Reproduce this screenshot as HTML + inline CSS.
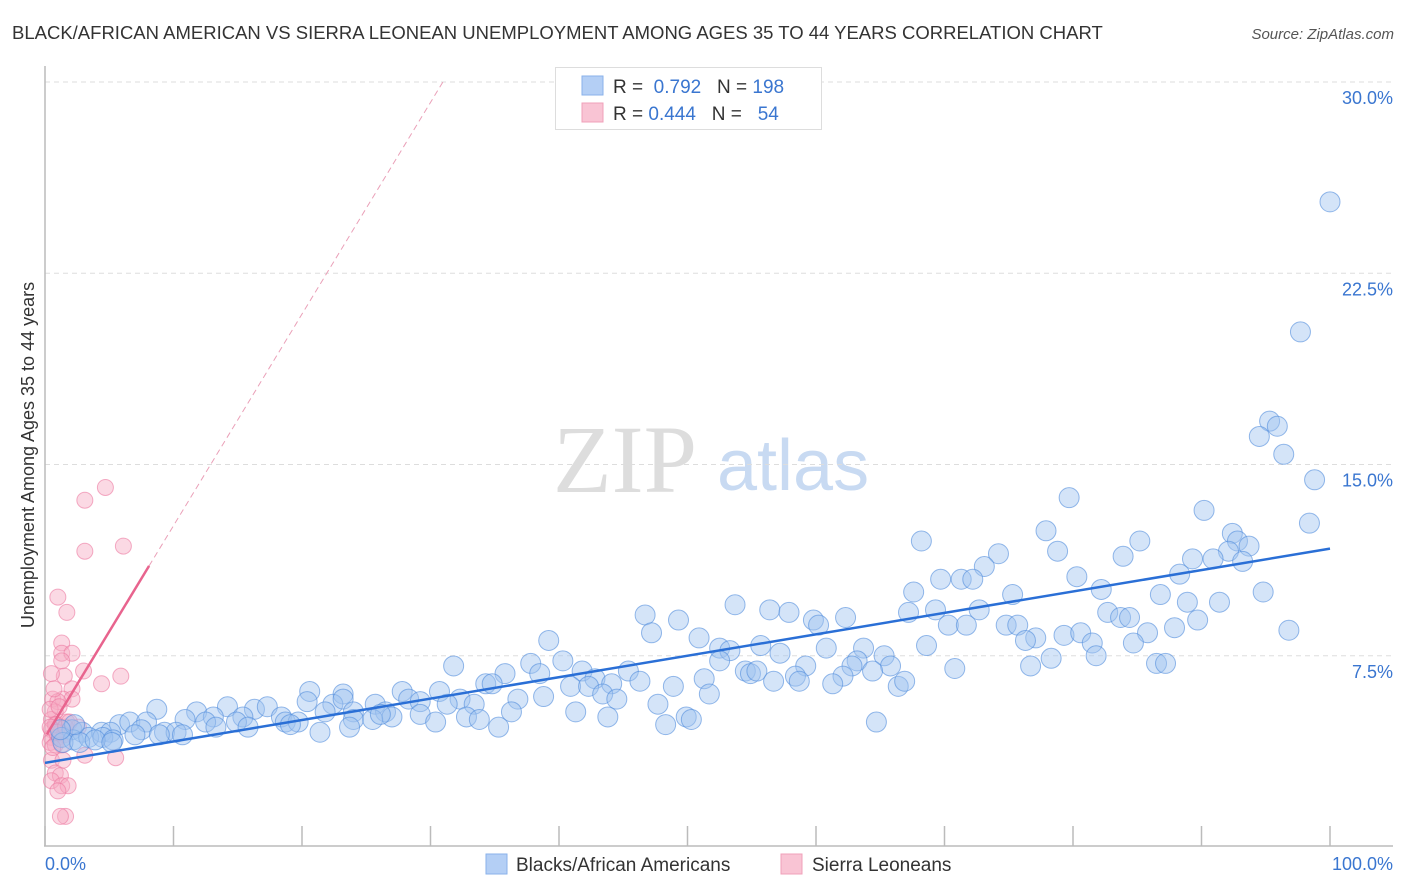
<!DOCTYPE html>
<html><head><meta charset="utf-8"><style>
body{margin:0;background:#fff;font-family:"Liberation Sans",sans-serif;}
svg{display:block}
</style></head><body>
<svg id="chart" width="1406" height="892">
<text x="12" y="39" font-size="18.5" fill="#333">BLACK/AFRICAN AMERICAN VS SIERRA LEONEAN UNEMPLOYMENT AMONG AGES 35 TO 44 YEARS CORRELATION CHART</text>
<text x="1394" y="39" font-size="15" fill="#555" font-style="italic" text-anchor="end">Source: ZipAtlas.com</text>
<g>
<text x="553" y="492" font-family="Liberation Serif,serif" font-size="96" fill="#ddd">ZIP</text>
<text x="717" y="490" font-size="72" fill="#c8daf2">atlas</text>
</g>
<g id="grid"></g>
<g id="axes"></g>
<g id="pinkpts"></g>
<g id="bluepts"></g>
<g id="lines"></g>
<text transform="translate(34,455) rotate(-90)" font-size="18" fill="#333" text-anchor="middle">Unemployment Among Ages 35 to 44 years</text>
<g>
<rect x="555.5" y="67.5" width="266" height="62" fill="#fff" stroke="#ddd"/>
<rect x="582" y="76" width="21" height="19" fill="#b4cff5" stroke="#8ab2ea"/>
<rect x="582" y="103" width="21" height="19" fill="#f9c4d4" stroke="#f0a0ba"/>
<text x="613" y="93" font-size="19" fill="#333">R = <tspan fill="#3a76d0">&#160;0.792</tspan>&#160;&#160;&#160;N = <tspan fill="#3a76d0">198</tspan></text>
<text x="613" y="120" font-size="19" fill="#333">R = <tspan fill="#3a76d0">0.444</tspan>&#160;&#160;&#160;N = <tspan fill="#3a76d0">&#160;&#160;54</tspan></text>
</g>
<g>
<rect x="486" y="854" width="21" height="20" fill="#b4cff5" stroke="#8ab2ea"/>
<text x="516" y="871" font-size="19" fill="#333">Blacks/African Americans</text>
<rect x="781" y="854" width="21" height="20" fill="#f9c4d4" stroke="#f0a0ba"/>
<text x="812" y="871" font-size="19" fill="#333">Sierra Leoneans</text>
</g>
</svg>
<script>
const yTicks=[7.5,15,22.5,30];
const yTickLabels=["7.5%","15.0%","22.5%","30.0%"];
const xTicks=[0,10,20,30,40,50,60,70,80,90,100];
const blueX=[100,97.7,95.3,95.9,94.5,96.4,98.8,98.4,79.7,90.2,68.2,77.9,78.8,85.2,92.4,92.8,93.7,92.1,74.2,83.9,89.3,90.9,93.2,73.1,80.3,88.3,69.7,71.3,72.2,67.6,75.3,82.2,94.8,86.8,53.7,56.4,57.9,67.2,69.3,72.7,82.7,88.9,91.4,46.7,49.3,59.8,62.3,83.7,84.4,89.7,47.2,60.2,70.3,71.7,74.8,75.7,85.8,87.9,96.8,39.2,50.9,77.1,79.3,80.6,76.3,81.5,52.5,53.3,55.7,57.2,60.8,63.7,68.6,84.7,52.5,63.2,65.3,78.3,81.8,86.5,87.2,31.8,37.8,40.3,41.8,45.4,59.2,62.8,65.8,76.7,70.8,35.8,38.5,42.8,54.5,54.9,55.4,51.3,64.4,58.4,62.1,34.3,34.8,40.9,42.3,44.1,46.3,48.9,56.7,58.7,61.3,66.4,66.9,20.6,23.2,27.8,30.7,32.3,38.8,43.4,44.5,51.7,36.8,8.7,14.2,16.3,17.3,20.4,22.4,23.2,25.7,28.3,29.2,31.3,33.4,47.7,11.8,13.1,15.4,18.4,21.8,24.0,26.5,27.0,29.2,36.3,41.3,49.9,10.9,12.5,14.9,18.7,19.7,24.0,25.5,26.1,30.4,32.8,33.8,43.8,50.3,48.3,5.8,6.6,7.9,13.3,15.8,19.1,23.7,35.3,64.7,2.1,2.9,4.4,5.1,7.5,9.3,10.2,10.7,21.4,1.3,2.2,3.4,4.5,5.3,7.0,8.9,1.4,2.7,3.9,5.2,2.3,1.2];
const blueY=[25.3,20.2,16.7,16.5,16.1,15.4,14.4,12.7,13.7,13.2,12.0,12.4,11.6,12.0,12.3,12.0,11.8,11.6,11.5,11.4,11.3,11.3,11.2,11.0,10.6,10.7,10.5,10.5,10.5,10.0,9.9,10.1,10.0,9.9,9.5,9.3,9.2,9.2,9.3,9.3,9.2,9.6,9.6,9.1,8.9,8.9,9.0,9.0,9.0,8.9,8.4,8.7,8.7,8.7,8.7,8.7,8.4,8.6,8.5,8.1,8.2,8.2,8.3,8.4,8.1,8.0,7.8,7.7,7.9,7.6,7.8,7.8,7.9,8.0,7.3,7.3,7.5,7.4,7.5,7.2,7.2,7.1,7.2,7.3,6.9,6.9,7.1,7.1,7.1,7.1,7.0,6.8,6.8,6.6,6.9,6.8,6.9,6.6,6.9,6.7,6.7,6.4,6.4,6.3,6.3,6.4,6.5,6.3,6.5,6.5,6.4,6.3,6.5,6.1,6.0,6.1,6.1,5.8,5.9,6.0,5.8,6.0,5.8,5.4,5.5,5.4,5.5,5.7,5.6,5.8,5.6,5.8,5.7,5.6,5.6,5.6,5.3,5.1,5.1,5.1,5.3,5.3,5.3,5.1,5.2,5.3,5.3,5.1,5.0,4.9,4.9,4.9,4.9,5.0,5.0,5.2,4.9,5.1,5.0,5.1,5.0,4.8,4.8,4.9,4.9,4.7,4.7,4.8,4.7,4.7,4.9,4.6,4.5,4.5,4.5,4.6,4.5,4.5,4.4,4.5,4.3,4.2,4.3,4.3,4.2,4.4,4.4,4.1,4.1,4.2,4.1,4.8,4.6];
const pinkX=[4.7,3.1,6.1,3.1,1.0,1.7,1.3,1.3,2.1,1.3,3.0,1.5,5.9,0.5,4.4,2.1,0.6,1.4,2.1,1.0,0.8,0.5,0.9,1.7,0.5,1.2,0.5,1.0,1.5,0.4,0.8,1.3,2.6,3.1,5.5,0.5,1.4,0.8,1.2,0.5,1.3,1.8,1.0,1.6,1.2,0.8,0.4,0.9,1.6,0.6,0.4,1.1,0.7,1.9];
const pinkY=[14.1,13.6,11.8,11.6,9.8,9.2,8.0,7.6,7.6,7.3,6.9,6.7,6.7,6.8,6.4,6.2,5.8,5.8,5.8,5.7,5.3,5.0,4.8,4.9,4.6,4.5,4.3,4.3,4.4,4.1,4.0,4.0,4.7,3.6,3.5,3.4,3.4,2.9,2.8,2.6,2.4,2.4,2.2,1.2,1.2,4.8,4.7,4.5,4.7,3.9,5.4,5.5,6.2,4.9];
const blueTrend=[3.3,11.7];
const pinkTrend=[4.3,0.83];
const pinkSolidEnd=8.1;
const X0=45,X1=1330,Y0=847,YPER=25.5;
const xs=p=>X0+p*(X1-X0)/100;
const ys=v=>Y0-v*YPER;
const NS="http://www.w3.org/2000/svg";
function mk(tag,parent,attrs){const e=document.createElementNS(NS,tag);for(const k in attrs)e.setAttribute(k,attrs[k]);document.getElementById(parent).appendChild(e);return e;}
yTicks.forEach((t,i)=>{
 const l=mk('line','grid',{x1:45,x2:1393,y1:ys(t),y2:ys(t),stroke:'#ddd','stroke-dasharray':'5,4'});
 
 
 const tx=mk('text','grid',{x:1393,y:ys(t)+22,'font-size':18,fill:'#3a76d0','text-anchor':'end'});
 tx.textContent=yTickLabels[i];
 
 
});
const ya=mk('line','axes',{x1:45,x2:45,y1:66,y2:846,stroke:'#bbb','stroke-width':1.5});


const xa=mk('line','axes',{x1:44,x2:1393,y1:846,y2:846,stroke:'#bbb','stroke-width':1.5});


xTicks.forEach(t=>{
 const l=mk('line','axes',{x1:xs(t),x2:xs(t),y1:826,y2:846,stroke:'#bbb','stroke-width':1.5});
 
 
});
const xl0=mk('text','axes',{x:45,y:870,'font-size':18,fill:'#3a76d0'});xl0.textContent='0.0%';


const xl1=mk('text','axes',{x:1393,y:870,'font-size':18,fill:'#3a76d0','text-anchor':'end'});xl1.textContent='100.0%';


pinkX.forEach((p,i)=>{
 const c=mk('circle','pinkpts',{cx:xs(p),cy:ys(pinkY[i]),r:8,fill:'rgba(246,170,195,0.45)',stroke:'rgba(236,120,160,0.6)','stroke-width':1});
 
 
});
blueX.forEach((p,i)=>{
 const c=mk('circle','bluepts',{cx:xs(p),cy:ys(blueY[i]),r:10,fill:'rgba(160,196,240,0.45)',stroke:'rgba(80,140,220,0.6)','stroke-width':1});
 
 
});
const bl=mk('line','lines',{x1:xs(0),y1:ys(blueTrend[0]),x2:xs(100),y2:ys(blueTrend[1]),stroke:'#2a6fd6','stroke-width':2.5});


const pEndDash=(30-pinkTrend[0])/pinkTrend[1];
const pd=mk('line','lines',{x1:xs(pinkSolidEnd),y1:ys(pinkTrend[0]+pinkTrend[1]*pinkSolidEnd),x2:xs(pEndDash),y2:ys(30),stroke:'#eaa0b8','stroke-width':1,'stroke-dasharray':'6,4'});


const ps=mk('line','lines',{x1:xs(0.15),y1:ys(pinkTrend[0]+pinkTrend[1]*0.15),x2:xs(pinkSolidEnd),y2:ys(pinkTrend[0]+pinkTrend[1]*pinkSolidEnd),stroke:'#e8648e','stroke-width':2.5});


</script>
</body></html>
